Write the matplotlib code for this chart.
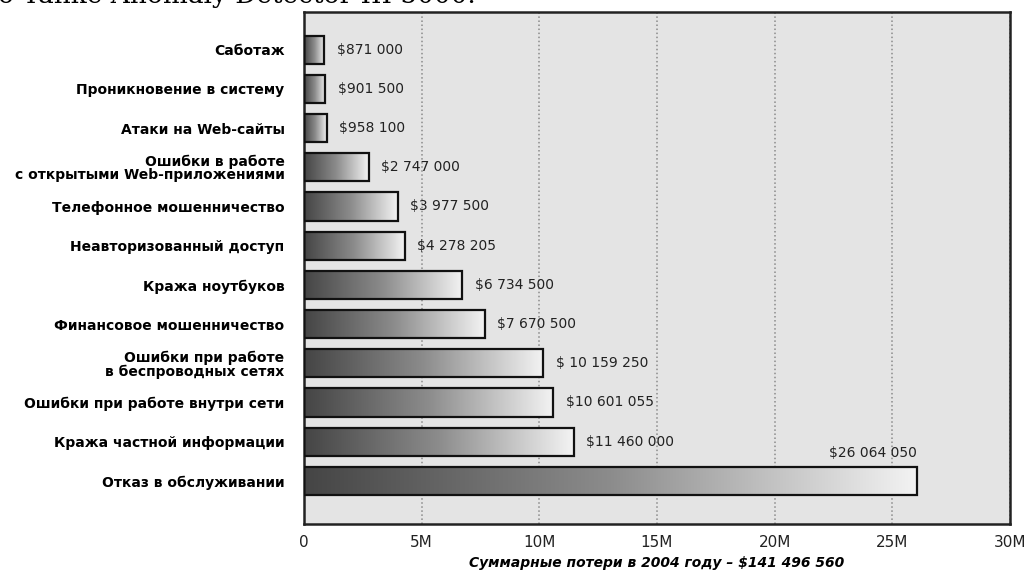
import numpy as np
import matplotlib.pyplot as plt
from matplotlib.colors import LinearSegmentedColormap

# =========================================
# DATA
# =========================================

categories = [
    "Саботаж",
    "Проникновение в систему",
    "Атаки на Web-сайты",
    "Ошибки в работе\nс открытыми Web-приложениями",
    "Телефонное мошенничество",
    "Неавторизованный доступ",
    "Кража ноутбуков",
    "Финансовое мошенничество",
    "Ошибки при работе\nв беспроводных сетях",
    "Ошибки при работе внутри сети",
    "Кража частной информации",
    "Отказ в обслуживании",
]

losses = [871000, 901500, 958100, 2747000, 3977500, 4278205,
          6734500, 7670500, 10159250, 10601055, 11460000, 26064050]

value_labels = ["$871 000", "$901 500", "$958 100", "$2 747 000", "$3 977 500",
                "$4 278 205", "$6 734 500", "$7 670 500", "$ 10 159 250",
                "$10 601 055", "$11 460 000", "$26 064 050"]

x_ticks = [0, 5e6, 10e6, 15e6, 20e6, 25e6, 30e6]
x_tick_labels = ["0", "5M", "10M", "15M", "20M", "25M", "30M"]

x_title = "Суммарные потери в 2004 году – $141 496 560"
top_text = "о Tanke Anomaly Detector III 5000."

# =========================================
# FIGURE
# =========================================

fig = plt.figure(figsize=(10.32, 5.77), dpi=100)
ax = fig.add_axes([304 / 1032, 1 - 524 / 577, 706 / 1032, 512 / 577])
ax.set_facecolor("#e4e4e4")

# line of page text, cut off by the top edge (only its lower part shows)
fig.text(-0.002, 1 - 2.5 / 577, top_text, family="DejaVu Serif",
         fontsize=19, va="baseline", ha="left", color="black")

# =========================================
# BARS WITH GRADIENT
# =========================================

cmap = LinearSegmentedColormap.from_list("bar", ["#454545", "#8c8c8c", "#f3f3f3"])
grad = np.linspace(0, 1, 256).reshape(1, -1)
bar_h = 0.72

for i, v in enumerate(losses):
    ax.imshow(grad, cmap=cmap, aspect="auto", zorder=2,
              extent=[0, v, i + bar_h / 2, i - bar_h / 2], interpolation="bicubic")
    ax.barh(i, v, height=bar_h, facecolor="none", edgecolor="#111111",
            linewidth=1.6, zorder=3)

    if i == len(losses) - 1:
        ax.text(v, i - bar_h / 2 - 0.18, value_labels[i], ha="right", va="bottom",
                fontsize=10, color="#222222")
    else:
        ax.annotate(value_labels[i], (v, i), xytext=(9, 0), textcoords="offset points",
                    ha="left", va="center", fontsize=10, color="#222222")

# =========================================
# AXES
# =========================================

ax.set_xlim(0, 30e6)
ax.set_ylim(12.1, -0.96)

ax.set_yticks(range(len(categories)))
ax.set_yticklabels(categories, fontsize=10, fontweight="bold", linespacing=0.95)
ax.tick_params(axis="y", length=0, pad=14)

ax.set_xticks(x_ticks)
ax.set_xticklabels(x_tick_labels, fontsize=11, color="#222222")
ax.tick_params(axis="x", length=0, pad=8)

ax.grid(axis="x", linestyle=":", color="#8a8a8a", linewidth=1.1, zorder=1)
ax.set_axisbelow(True)

for side in ["left", "bottom", "top", "right"]:
    ax.spines[side].set_color("#222222")
    ax.spines[side].set_linewidth(1.8)

ax.set_xlabel(x_title, fontsize=10, fontweight="bold", style="italic", labelpad=4)

fig.savefig("out.png", dpi=100)
